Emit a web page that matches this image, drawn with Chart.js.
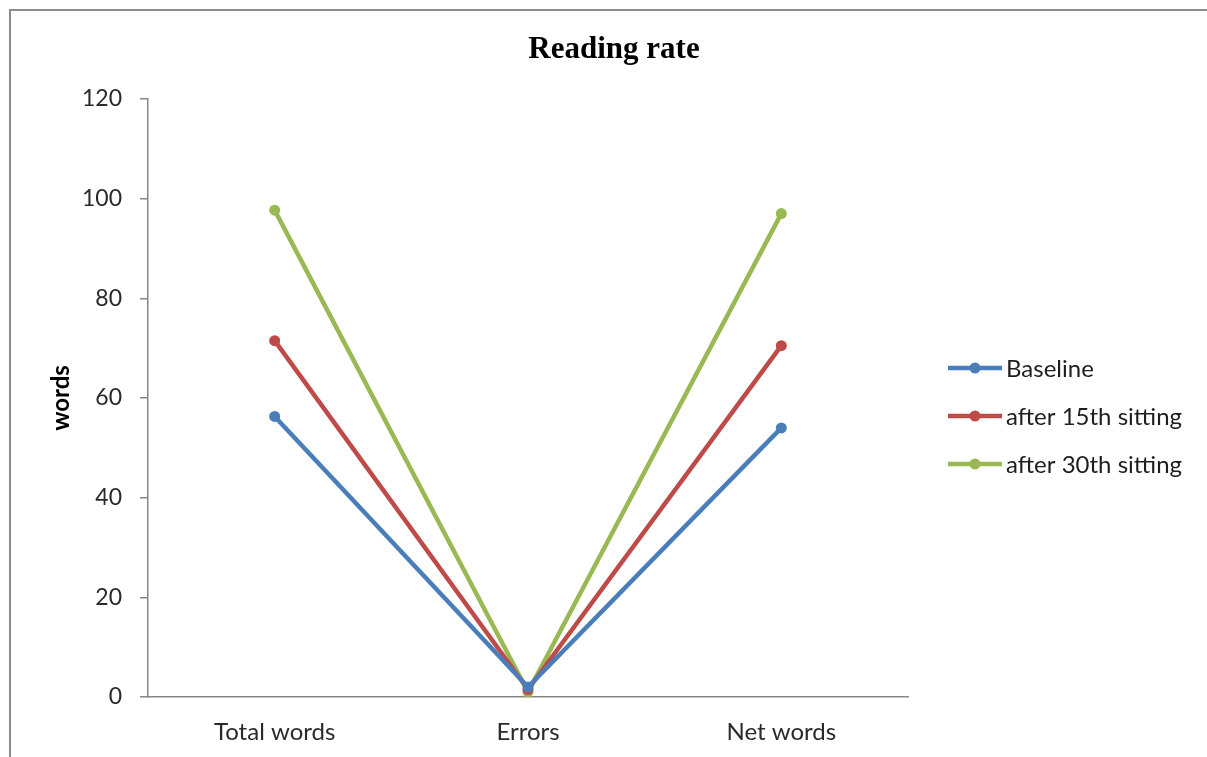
<!DOCTYPE html>
<html>
<head>
<meta charset="utf-8">
<script src="https://cdn.jsdelivr.net/npm/chart.js@4/dist/chart.umd.min.js"></script>
<style>
  html,body{margin:0;padding:0;background:#fff;}
  #wrap{width:1207px;height:757px;position:relative;}
</style>
</head>
<body>
<div id="wrap"><canvas id="myChart" width="1207" height="757"></canvas></div>
<script>
// data
let categories=['Total words','Errors','Net words']
let baseline=[56.3,2,54]
let after15=[71.5,1.5,70.5]
let after30=[97.7,1,97]
let seriesNames=['Baseline','after 15th sitting','after 30th sitting']
let seriesColors=['#4A7EBB','#BE4B48','#98B954']
let yTicks=[0,20,40,60,80,100,120]
let chartTitle='Reading rate'

const FONT='Lato, "Open Sans", sans-serif'

// gray frame round the chart + the title
const framePlugin={
    id:'frame',
    beforeDraw(chart){
        let c=chart.ctx
        c.save()
        c.fillStyle='#fff'
        c.fillRect(0,0,chart.width,chart.height)
        c.strokeStyle='#8c8c8c'
        c.lineWidth=2
        c.strokeRect(10,10,chart.width+20,chart.height+20)
        c.fillStyle='#000'
        c.font='bold 31px "Liberation Serif", serif'
        c.textAlign='center'
        c.textBaseline='middle'
        c.fillText(chartTitle,614,50)
        c.restore()
    }
}

// legend drawn by hand: line with a dot in the middle
const sideLegend={
    id:'sideLegend',
    afterDraw(chart){
        let c=chart.ctx
        c.save()
        chart.data.datasets.forEach((ds,i)=>{
            let y=368+i*48
            c.strokeStyle=ds.borderColor
            c.lineWidth=4.5
            c.beginPath()
            c.moveTo(948,y)
            c.lineTo(1002,y)
            c.stroke()
            c.fillStyle=ds.borderColor
            c.beginPath()
            c.arc(975,y,5.5,0,Math.PI*2)
            c.fill()
            c.fillStyle='#1e1e1e'
            c.font='24px '+FONT
            c.textBaseline='middle'
            c.textAlign='left'
            c.fillText(ds.label,1006,y+1)
        })
        c.restore()
    }
}

let ctx=document.getElementById('myChart').getContext('2d')
let myChart=new Chart(ctx,{
    type:'line',
    data:{
        labels:categories,
        datasets:[baseline,after15,after30].map((vals,i)=>({
            label:seriesNames[i],
            data:vals,
            borderColor:seriesColors[i],
            backgroundColor:seriesColors[i],
            borderWidth:4.5,
            pointRadius:5.5,
            pointHoverRadius:5.5,
            pointBorderWidth:0,
            tension:0
        }))
    },
    options:{
        responsive:false,
        animation:false,
        layout:{padding:{left:0,right:299,top:99,bottom:0}},
        plugins:{
            legend:{display:false},
            tooltip:{enabled:false},
            title:{display:false}
        },
        scales:{
            x:{
                offset:true,
                grid:{display:false},
                border:{display:true,color:'#868686',width:1.5},
                ticks:{color:'#2a2a2a',font:{family:FONT,size:24},padding:13},
                afterFit(s){s.height=60}
            },
            y:{
                min:0,max:120,
                afterBuildTicks(s){s.ticks=yTicks.map(v=>({value:v}))},
                grid:{drawOnChartArea:false,drawTicks:true,tickLength:8,color:'#868686',lineWidth:1.5},
                border:{display:true,color:'#868686',width:1.5},
                ticks:{color:'#2a2a2a',font:{family:FONT,size:23},padding:18},
                title:{display:true,text:'words',color:'#000',font:{family:FONT,size:24,weight:'bold'},padding:{top:47,bottom:0}},
                afterFit(s){s.width=148}
            }
        }
    },
    plugins:[framePlugin,sideLegend]
})
</script>
</body>
</html>
